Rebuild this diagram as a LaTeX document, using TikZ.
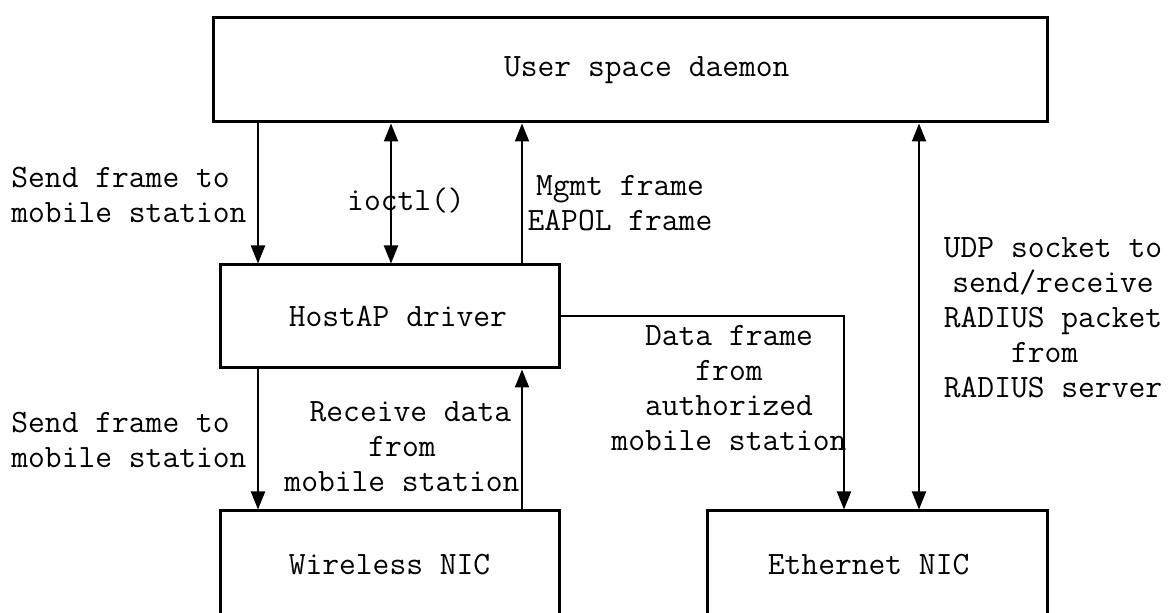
\documentclass[tikz,border=0pt]{standalone}
\usepackage{fontspec}
\usetikzlibrary{arrows.meta}
\begin{document}
\begin{tikzpicture}[x=0.5pt,y=-0.5pt,
  box/.style={draw=black,line width=1.5pt,rectangle,inner sep=0pt,minimum height=51.5pt,font=\ttfamily\fontsize{16.3}{17.5}\selectfont},
  lbl/.style={inner sep=0pt,font=\ttfamily\fontsize{16.3}{17.5}\selectfont},
  arr/.style={line width=1pt,-{Triangle[length=9pt,width=7pt]}},
  dbl/.style={line width=1pt,{Triangle[length=9pt,width=7pt]}-{Triangle[length=9pt,width=7pt]}}]
\useasboundingbox (0,0) rectangle (1176,613);
\clip (0,0) rectangle (1176,613);
\fill[white] (0,0) rectangle (1176,613);
% boxes
\node[box,minimum width=417pt,minimum height=52pt] (usd) at (630,70) {\hphantom{x}\hphantom{x}User space daemon};
\node[box,minimum width=169.5pt] (hap) at (389.5,316.5) {\hphantom{x}HostAP driver};
\node[box,minimum width=169.5pt,minimum height=53.5pt] (wnic) at (389.5,564.5) {Wireless NIC};
\node[box,minimum width=170pt,minimum height=53.5pt] (enic) at (877,564.5) {Ethernet NIC\hphantom{x}};
% columns
\coordinate (xa) at (258,0);
\coordinate (xb) at (391,0);
\coordinate (xc) at (522,0);
\coordinate (xd) at (844,0);
\coordinate (xe) at (919,0);
% connectors
\draw[arr] (usd.south -| xa) -- (hap.north -| xa);
\draw[dbl] (usd.south -| xb) -- (hap.north -| xb);
\draw[arr] (hap.north -| xc) -- (usd.south -| xc);
\draw[dbl] (usd.south -| xe) -- (enic.north -| xe);
\draw[arr] (hap.east) -- (hap.east -| xd) -- (enic.north -| xd);
\draw[arr] (hap.south -| xa) -- (wnic.north -| xa);
\draw[arr] (wnic.north -| xc) -- (hap.south -| xc);
% labels
\node[lbl,align=left,anchor=west] (l1) at (11,195) {Send frame to\\mobile station};
\node[lbl] (l2) at (406,201) {ioctl()};
\node[lbl,align=center] (l3) at (620,203) {Mgmt frame\\EAPOL frame};
\node[lbl,align=center] (l4) at (1053,318) {UDP socket to\\send/receive\\RADIUS packet\\from\hphantom{x}\\RADIUS server};
\node[lbl,align=center] (l5) at (729,388.5) {Data frame\\from\\authorized\\mobile station};
\node[lbl,align=left,anchor=west] (l6) at (11,440) {Send frame to\\mobile station};
\node[lbl,align=center] (l7) at (402,447) {\hphantom{x}Receive data\\from\\mobile station};
\end{tikzpicture}
\end{document}
